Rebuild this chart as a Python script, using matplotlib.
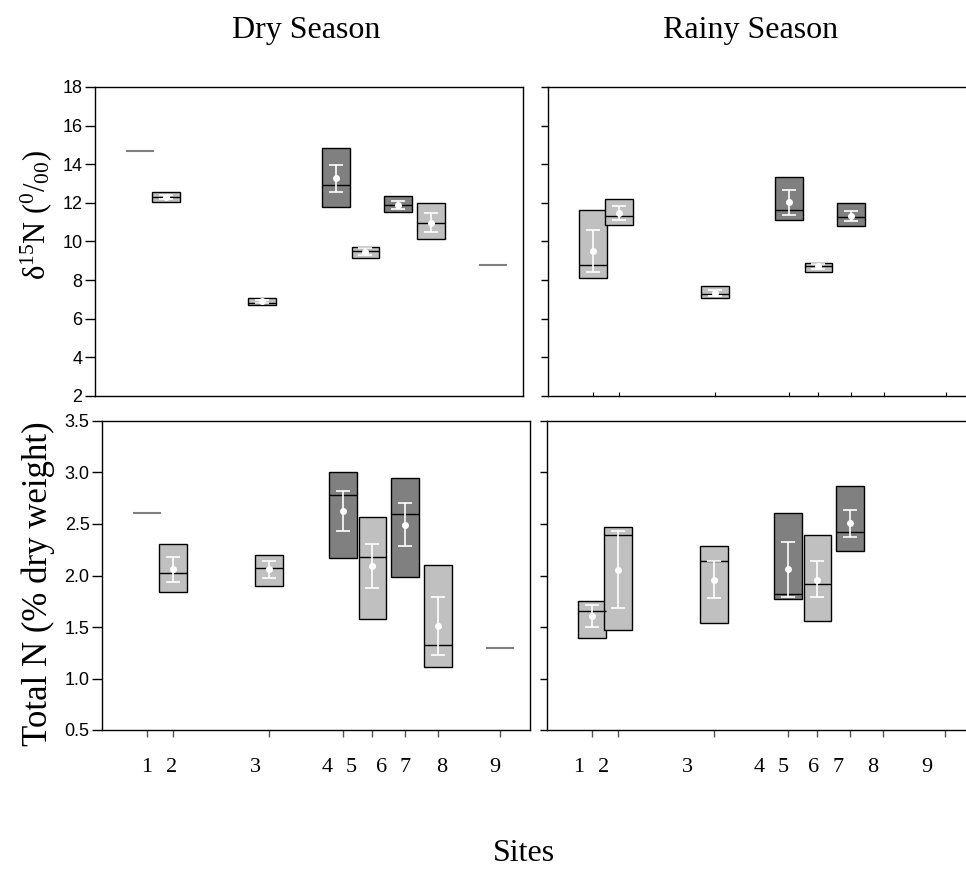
import numpy as np
import matplotlib
matplotlib.use("Agg")
import matplotlib.pyplot as plt
import matplotlib.transforms as mtransforms

plt.rcParams['font.family'] = ['Liberation Serif', 'DejaVu Serif']
plt.rcParams['mathtext.fontset'] = 'custom'
plt.rcParams['mathtext.rm'] = 'Liberation Serif'
plt.rcParams['mathtext.it'] = 'Liberation Serif:italic'

# box centres along the site axis (same for both seasons)
site_pos = [1.04, 1.67, 3.91, 5.64, 6.32, 7.07, 7.86, 9.29]

# labels are placed a little apart from the boxes in the original figure
dry_label_pos = [1.04, 1.63, 3.59, 5.26, 5.83, 6.54, 7.08, 7.94, 9.18]
rainy_label_pos = [0.75, 1.32, 3.29, 4.96, 5.52, 6.22, 6.81, 7.62, 8.87]
site_labels = ['1', '2', '3', '4', '5', '6', '7', '8', '9']

# ---- Dry season ----
dry_idx = [1, 2, 3, 4, 5, 6]
dry_shade = ['light', 'light', 'dark', 'light', 'dark', 'light']
dry_single_idx = [0, 7]

dry_d15n_single = [14.70, 8.78]
dry_d15n_hi = [12.55, 7.07, 14.86, 9.72, 12.38, 11.97]
dry_d15n_lo = [12.07, 6.69, 11.81, 9.17, 11.52, 10.14]
dry_d15n_med = [12.29, 6.83, 12.95, 9.50, 11.91, 10.98]
dry_d15n_mean = [12.30, 6.91, 13.28, 9.47, 11.88, 10.98]
dry_d15n_ehi = [12.40, 6.97, 13.97, 9.67, 12.10, 11.48]
dry_d15n_elo = [12.19, 6.83, 12.57, 9.29, 11.69, 10.48]

dry_tn_single = [2.61, 1.30]
dry_tn_hi = [2.306, 2.202, 3.005, 2.571, 2.947, 2.099]
dry_tn_lo = [1.840, 1.898, 2.170, 1.575, 1.982, 1.112]
dry_tn_med = [2.020, 2.076, 2.782, 2.180, 2.600, 1.322]
dry_tn_mean = [2.060, 2.060, 2.630, 2.089, 2.493, 1.513]
dry_tn_ehi = [2.177, 2.144, 2.823, 2.303, 2.704, 1.794]
dry_tn_elo = [1.934, 1.973, 2.432, 1.876, 2.283, 1.228]

# ---- Rainy season ----
rainy_idx = [0, 1, 2, 3, 4, 5]
rainy_shade = ['light', 'light', 'light', 'dark', 'light', 'dark']

rainy_d15n_hi = [11.64, 12.21, 7.67, 13.36, 8.90, 11.97]
rainy_d15n_lo = [8.09, 10.88, 7.05, 11.09, 8.40, 10.81]
rainy_d15n_med = [8.76, 11.31, 7.26, 11.64, 8.71, 11.26]
rainy_d15n_mean = [9.50, 11.48, 7.34, 12.03, 8.71, 11.34]
rainy_d15n_ehi = [10.57, 11.83, 7.50, 12.69, 8.83, 11.60]
rainy_d15n_elo = [8.43, 11.12, 7.16, 11.38, 8.59, 11.07]

rainy_tn_hi = [1.751, 2.472, 2.288, 2.604, 2.391, 2.873]
rainy_tn_lo = [1.395, 1.470, 1.538, 1.767, 1.554, 2.236]
rainy_tn_med = [1.660, 2.391, 2.145, 1.816, 1.913, 2.420]
rainy_tn_mean = [1.605, 2.058, 1.958, 2.061, 1.961, 2.507]
rainy_tn_ehi = [1.709, 2.433, 2.139, 2.330, 2.136, 2.637]
rainy_tn_elo = [1.496, 1.680, 1.777, 1.793, 1.787, 2.378]

cores = {'light': '#c0c0c0', 'dark': '#808080'}
largura = 0.654


def desenha_caixas(ax, idx, shade, hi, lo, med, mean, ehi, elo):
    x = np.array([site_pos[i] for i in idx])
    hi, lo, med = np.array(hi), np.array(lo), np.array(med)
    mean, ehi, elo = np.array(mean), np.array(ehi), np.array(elo)
    ax.bar(x, hi - lo, bottom=lo, width=largura, color=[cores[s] for s in shade],
           edgecolor='black', linewidth=1.0, zorder=2)
    ax.hlines(med, x - largura / 2, x + largura / 2, color='black', linewidth=1.0, zorder=3)
    ax.errorbar(x, mean, yerr=[mean - elo, ehi - mean], fmt='o', color='white',
                ecolor='white', markersize=4, capsize=5, elinewidth=1.2,
                capthick=1.2, zorder=4)


def linha_unica(ax, idx, vals):
    x = np.array([site_pos[i] for i in idx])
    ax.hlines(vals, x - largura / 2, x + largura / 2, color='#808080', linewidth=1.5, zorder=2)


def rotulos_x(ax, posicoes):
    trans = mtransforms.blended_transform_factory(ax.transData, ax.transAxes)
    for p, lab in zip(posicoes, site_labels):
        ax.text(p, -0.12, lab, transform=trans, ha='center', va='center', fontsize=16)


fig = plt.figure(figsize=(9.66, 8.69), dpi=100)
W, H = 966, 869


def eixo(x0, y0, w=428, h=309):
    return fig.add_axes([x0 / W, 1 - (y0 + h) / H, w / W, h / H])


ax_tl = eixo(95, 87)
ax_tr = eixo(548, 87)
ax_bl = eixo(102, 421)
ax_br = eixo(547, 421)

desenha_caixas(ax_tl, dry_idx, dry_shade, dry_d15n_hi, dry_d15n_lo, dry_d15n_med,
               dry_d15n_mean, dry_d15n_ehi, dry_d15n_elo)
linha_unica(ax_tl, dry_single_idx, dry_d15n_single)
desenha_caixas(ax_bl, dry_idx, dry_shade, dry_tn_hi, dry_tn_lo, dry_tn_med,
               dry_tn_mean, dry_tn_ehi, dry_tn_elo)
linha_unica(ax_bl, dry_single_idx, dry_tn_single)
desenha_caixas(ax_tr, rainy_idx, rainy_shade, rainy_d15n_hi, rainy_d15n_lo, rainy_d15n_med,
               rainy_d15n_mean, rainy_d15n_ehi, rainy_d15n_elo)
desenha_caixas(ax_br, rainy_idx, rainy_shade, rainy_tn_hi, rainy_tn_lo, rainy_tn_med,
               rainy_tn_mean, rainy_tn_ehi, rainy_tn_elo)

for ax in [ax_tl, ax_tr, ax_bl, ax_br]:
    ax.set_xlim(0, 10)
    for s in ax.spines.values():
        s.set_linewidth(1.0)
    ax.tick_params(axis='y', direction='out', length=7, width=1, pad=2, labelsize=13)

for ax in [ax_tl, ax_tr]:
    ax.set_ylim(2, 18)
    ax.set_yticks(np.arange(2, 19, 2))
for ax in [ax_bl, ax_br]:
    ax.set_ylim(0.5, 3.5)
    ax.set_yticks(np.arange(0.5, 3.51, 0.5))
    ax.set_yticklabels([f'{v:.1f}' for v in np.arange(0.5, 3.51, 0.5)],
                       fontfamily='Liberation Sans', fontsize=13)
ax_tl.set_yticklabels([str(v) for v in range(2, 19, 2)], fontfamily='Liberation Sans', fontsize=13)

ax_tl.set_xticks([])
ax_tr.set_xticks(site_pos)
ax_tr.tick_params(axis='x', direction='in', length=3, labelbottom=False)
for ax in [ax_bl, ax_br]:
    ax.set_xticks(site_pos)
    ax.tick_params(axis='x', direction='out', length=5, width=1, labelbottom=False, color='#555555')

for ax in [ax_tr, ax_br]:
    ax.tick_params(axis='y', length=5, labelleft=False)
    ax.spines['right'].set_visible(False)

rotulos_x(ax_bl, dry_label_pos)
rotulos_x(ax_br, rainy_label_pos)

fig.text(306 / W, 1 - 38 / H, 'Dry Season', ha='center', va='baseline', fontsize=23)
fig.text(751 / W, 1 - 38 / H, 'Rainy Season', ha='center', va='baseline', fontsize=23)
fig.text(524 / W, 1 - 868 / H, 'Sites', ha='center', va='bottom', fontsize=23)
fig.text(36 / W, 1 - 215 / H, 'δ$^{15}$N ($^{0}$/$_{00}$)', ha='center', va='center',
         rotation=90, fontsize=22)
fig.text(38 / W, 1 - 584 / H, 'Total N (% dry weight)', ha='center', va='center',
         rotation=90, fontsize=25)

fig.savefig('out.png', dpi=100)
